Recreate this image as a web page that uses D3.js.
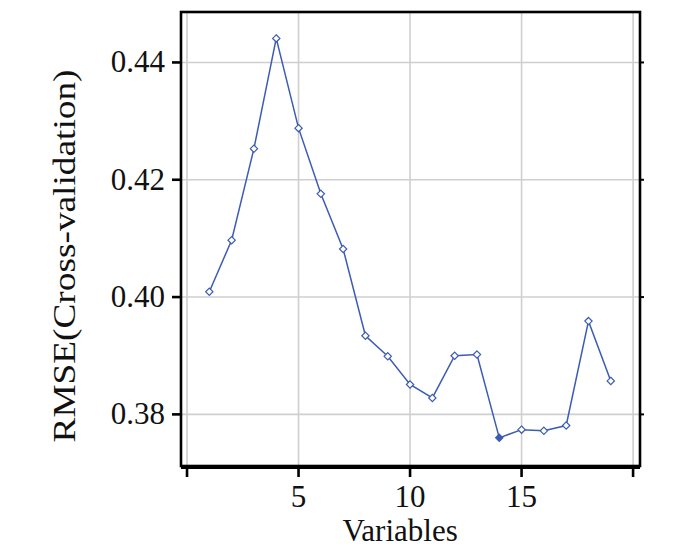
<!DOCTYPE html>
<html><head><meta charset="utf-8">
<script src="https://cdn.jsdelivr.net/npm/d3@7"></script>
<style>body{margin:0;background:#fff}svg{display:block}</style>
</head><body><svg id="c" width="700" height="548"></svg>
<script>
const variables = [1,2,3,4,5,6,7,8,9,10,11,12,13,14,15,16,17,18,19];
const rmse = [0.4009,0.4097,0.4253,0.4441,0.4288,0.4176,0.4082,0.3934,0.3899,0.3851,0.3828,0.3900,0.3902,0.3760,0.3774,0.3772,0.3781,0.3959,0.3857];
const xTicks = [0,5,10,15,20];
const xTickLabels = ["","5","10","15",""];
const yTicks = [0.38,0.40,0.42,0.44];
const yTickLabels = ["0.38","0.40","0.42","0.44"];
const filledIndex = 13;

const FONT = "'Liberation Serif'";
const svg = d3.select("#c");
const L=181, R=640, T=12, B=466;
const x = d3.scaleLinear().domain([-0.27,20.31]).range([L,R]);
const y = d3.scaleLinear().domain([0.3712,0.4486]).range([B,T]);
const color = "#3c5cb4";

// grid
svg.append("g").selectAll("line").data(xTicks).join("line")
  .attr("x1",d=>x(d)).attr("x2",d=>x(d)).attr("y1",T).attr("y2",B)
  .attr("stroke","#cfcfcf").attr("stroke-width",1.6);
svg.append("g").selectAll("line").data(yTicks).join("line")
  .attr("x1",L).attr("x2",R).attr("y1",d=>y(d)).attr("y2",d=>y(d))
  .attr("stroke","#cfcfcf").attr("stroke-width",1.6);

// line
svg.append("path").datum(variables.map((v,i)=>[v,rmse[i]]))
  .attr("fill","none").attr("stroke",color).attr("stroke-width",1.5)
  .attr("d",d3.line().x(d=>x(d[0])).y(d=>y(d[1])));

// markers
const sym = d3.symbol().type(d3.symbolDiamond2).size(34);
svg.append("g").selectAll("path").data(variables).join("path")
  .attr("transform",(d,i)=>`translate(${x(d)},${y(rmse[i])})`)
  .attr("d",sym)
  .attr("fill",(d,i)=>i===filledIndex?color:"#fff")
  .attr("stroke",color).attr("stroke-width",1.2);

// frame
svg.append("rect").attr("x",L).attr("y",T).attr("width",R-L).attr("height",B-T)
  .attr("fill","none").attr("stroke","#000").attr("stroke-width",2.6);

// y axis
const yAxis = svg.append("g");
yAxis.selectAll("line.t").data(yTicks).join("line")
  .attr("x1",L-9).attr("x2",L).attr("y1",d=>y(d)).attr("y2",d=>y(d))
  .attr("stroke","#000").attr("stroke-width",2.6);
yAxis.selectAll("line.r").data(yTicks).join("line")
  .attr("x1",R).attr("x2",R+4).attr("y1",d=>y(d)).attr("y2",d=>y(d))
  .attr("stroke","#000").attr("stroke-width",2);
yAxis.selectAll("text").data(yTicks).join("text")
  .attr("x",L-16).attr("y",d=>y(d)+10).attr("text-anchor","end")
  .attr("font-size",31).attr("fill","#111").style("font-family",FONT)
  .text((d,i)=>yTickLabels[i]);

// x axis
const xAxis = svg.append("g");
xAxis.append("line").attr("x1",L).attr("x2",R).attr("y1",B+2).attr("y2",B+2)
  .attr("stroke","#000").attr("stroke-width",2);
xAxis.selectAll("line.t").data(xTicks).join("line")
  .attr("x1",d=>x(d)).attr("x2",d=>x(d)).attr("y1",B).attr("y2",B+11)
  .attr("stroke","#000").attr("stroke-width",2.6);
xAxis.selectAll("text").data(xTicks).join("text")
  .attr("x",d=>x(d)).attr("y",507).attr("text-anchor","middle")
  .attr("font-size",31).attr("fill","#111").style("font-family",FONT)
  .text((d,i)=>xTickLabels[i]);

svg.append("text").attr("x",x(10)-10).attr("y",541).attr("text-anchor","middle")
  .attr("font-size",31).attr("fill","#111").style("font-family",FONT).text("Variables");
svg.append("text").attr("transform","translate(75,256) rotate(-90)")
  .attr("text-anchor","middle").attr("font-size",31).attr("fill","#111").style("font-family",FONT)
  .attr("textLength",373).attr("lengthAdjust","spacingAndGlyphs")
  .text("RMSE(Cross-validation)");
</script></body></html>
